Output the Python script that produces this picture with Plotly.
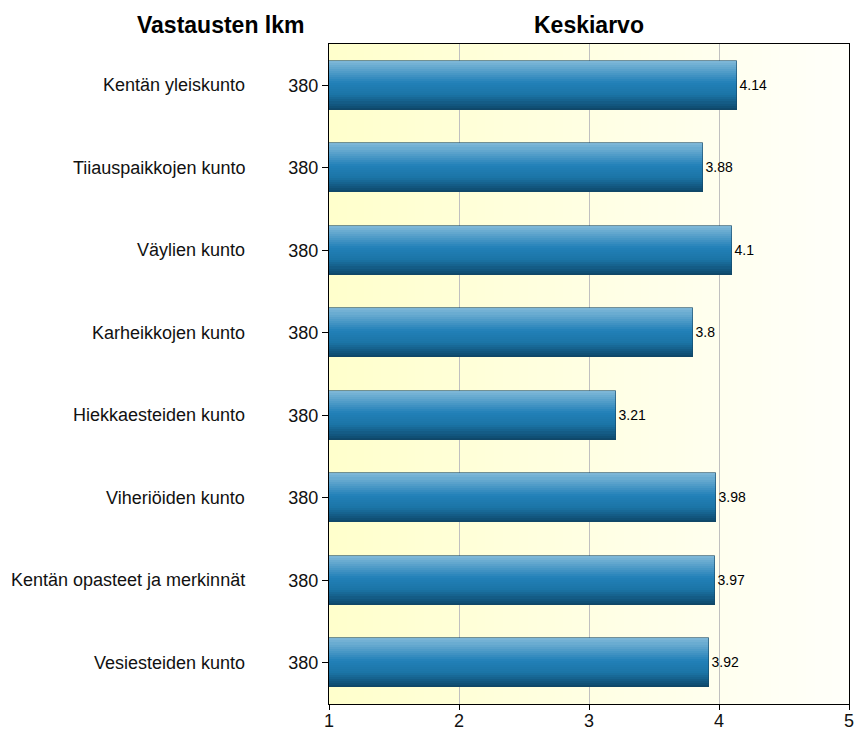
import plotly.graph_objects as go

categories = ["Kentän yleiskunto", "Tiiauspaikkojen kunto", "Väylien kunto", "Karheikkojen kunto",
              "Hiekkaesteiden kunto", "Viheriöiden kunto", "Kentän opasteet ja merkinnät", "Vesiesteiden kunto"]
counts = [380, 380, 380, 380, 380, 380, 380, 380]
means = [4.14, 3.88, 4.1, 3.8, 3.21, 3.98, 3.97, 3.92]
x_ticks = [1, 2, 3, 4, 5]

W, H = 855, 731
L, R, T, B = 329, 855 - 849, 44, 731 - 704
pw = W - L - R

FONT = "Liberation Sans, Arial"

fig = go.Figure()

def lerp(c1, c2, t):
    return tuple(round(a + (b - a) * t) for a, b in zip(c1, c2))

stops = [(0.0, (128, 185, 216)), (0.45, (34, 128, 184)), (0.7, (27, 116, 166)), (1.0, (13, 70, 104))]
def grad(t):
    for (t0, c0), (t1, c1) in zip(stops, stops[1:]):
        if t <= t1:
            return lerp(c0, c1, (t - t0) / (t1 - t0))
    return stops[-1][1]

bw = 0.59
N = 24
sw = bw / N
ypos = list(range(len(categories)))
for i in range(N):
    c = grad((i + 0.5) / N)
    fig.add_trace(go.Bar(
        x=means, y=ypos, orientation="h", base=0,
        width=sw * 1.05, offset=-bw / 2 + i * sw,
        marker=dict(color="rgb(%d,%d,%d)" % c, line=dict(width=0)),
        hoverinfo="skip", showlegend=False))

fig.add_trace(go.Bar(
    x=means, y=ypos, orientation="h", base=0, width=bw,
    marker=dict(color="rgba(0,0,0,0)", line=dict(color="rgba(20,70,100,0.6)", width=1)),
    text=[f"{v:g}" for v in means], textposition="outside",
    textfont=dict(family=FONT, size=14, color="black"),
    cliponaxis=False, showlegend=False))

# background gradient
shapes = []
NS = 60
c_left = (255, 255, 204)
c_right = (255, 255, 250)
for i in range(NS):
    t = i / (NS - 1)
    c = lerp(c_left, c_right, t)
    shapes.append(dict(type="rect", xref="x domain", yref="y domain",
                       x0=i / NS, x1=(i + 1) / NS + 0.002, y0=0, y1=1,
                       fillcolor="rgb(%d,%d,%d)" % c, line=dict(width=0), layer="below"))

annotations = []
for i, cat in enumerate(categories):
    annotations.append(dict(text=cat, x=(247 - L) / pw, xref="paper", y=i, yref="y",
                            showarrow=False, xanchor="right", yanchor="middle",
                            font=dict(family=FONT, size=18, color="#111")))

annotations.append(dict(text="<b>Vastausten lkm</b>", x=(220 - L) / pw, xref="paper",
                        y=1, yref="paper", yshift=19, showarrow=False, xanchor="center", yanchor="middle",
                        font=dict(family=FONT, size=23, color="black")))
annotations.append(dict(text="<b>Keskiarvo</b>", x=0.5, xref="paper",
                        y=1, yref="paper", yshift=19, showarrow=False, xanchor="center", yanchor="middle",
                        font=dict(family=FONT, size=23, color="black")))

fig.update_layout(
    width=W, height=H, margin=dict(l=L, r=R, t=T, b=B, autoexpand=False),
    paper_bgcolor="white", plot_bgcolor="white",
    barmode="overlay", bargap=0,
    shapes=shapes, annotations=annotations,
    xaxis=dict(range=[1, 5], tickvals=x_ticks, ticks="outside", ticklen=5, tickcolor="black",
               showgrid=True, gridcolor="#c0c0c0", gridwidth=1, zeroline=False,
               showline=True, linecolor="black", linewidth=1, mirror=True, automargin=False,
               ticklabelstandoff=-5,
               tickfont=dict(family=FONT, size=18, color="#111")),
    yaxis=dict(range=[len(categories) - 0.5, -0.5], tickvals=ypos, ticktext=[str(c) for c in counts],
               ticks="outside", ticklen=6, tickcolor="black", showgrid=False, zeroline=False,
               showline=True, linecolor="black", linewidth=1, mirror=True, automargin=False,
               tickfont=dict(family=FONT, size=18, color="#111")),
)

fig.write_html("out.html", config={"displayModeBar": False},
               post_script="document.body.style.margin='0';document.body.style.overflow='hidden';")
